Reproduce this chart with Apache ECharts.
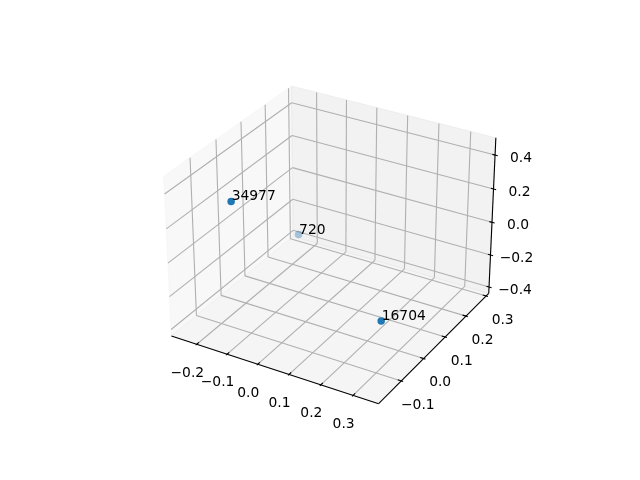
<!DOCTYPE html>
<html>
<head>
<meta charset="utf-8">
<style>html,body{margin:0;padding:0;background:#fff}#c{width:640px;height:480px}</style>
<script src="https://cdn.jsdelivr.net/npm/echarts@6/dist/echarts.min.js"></script>
</head>
<body>
<div id="c"></div>
<script>
// ---- data ----
const pointLabels = ['34977', '720', '16704'];
const pointX = [-0.10, -0.24, 0.324];
const pointY = [-0.165, 0.28, -0.115];
const pointZ = [0.416, -0.365, -0.097];
const xTicks = [-0.2, -0.1, 0.0, 0.1, 0.2, 0.3];
const yTicks = [-0.1, 0.0, 0.1, 0.2, 0.3];
const zTicks = [-0.4, -0.2, 0.0, 0.2, 0.4];
const xRange = [-0.285, 0.378];
const yRange = [-0.198, 0.313];
const zRange = [-0.44, 0.50];

// ---- 3D view (elev 30, azim -60, box aspect 4:4:3, focal length 1) ----
const box = [1.1905, 1.1905, 0.9117];
const U = [0.8660254, 0.5, 0];
const V = [-0.25, 0.421, 0.8660254];
const W = [0.4330127, -0.75, 0.5];
const DIST = 10;
const dot = (a, b) => a[0] * b[0] + a[1] * b[1] + a[2] * b[2];
function centred(x, y, z) {
  return [
    ((x - xRange[0]) / (xRange[1] - xRange[0]) - 0.5) * box[0],
    ((y - yRange[0]) / (yRange[1] - yRange[0]) - 0.5) * box[1],
    ((z - zRange[0]) / (zRange[1] - zRange[0]) - 0.5) * box[2]
  ];
}
function project(x, y, z) {
  const q = centred(x, y, z);
  const d = DIST - dot(W, q);
  return [dot(U, q) / d, dot(V, q) / d];
}
const depth = (x, y, z) => dot(W, centred(x, y, z));

// axis windows for the projected plane, mapping it on the whole canvas
const SCALE = 1995, CX = 333, CY = 237.3;
const planeX = [(0 - CX) / SCALE, (640 - CX) / SCALE];
const planeY = [(CY - 480) / SCALE, CY / SCALE];

const [x0, x1] = xRange, [y0, y1] = yRange, [z0, z1] = zRange;
const seg = (a, b) => [...project(...a), ...project(...b)];
const quad = (a, b, c, d) => [...project(...a), ...project(...b), ...project(...c), ...project(...d)];

const panes = [
  { value: quad([x0, y0, z0], [x0, y1, z0], [x0, y1, z1], [x0, y0, z1]), color: 'rgba(242,242,242,0.5)' },
  { value: quad([x0, y1, z0], [x1, y1, z0], [x1, y1, z1], [x0, y1, z1]), color: 'rgba(230,230,230,0.5)' },
  { value: quad([x0, y0, z0], [x1, y0, z0], [x1, y1, z0], [x0, y1, z0]), color: 'rgba(236,236,236,0.5)' }
];

const gridSegs = [];
xTicks.forEach(t => { gridSegs.push(seg([t, y0, z0], [t, y1, z0]), seg([t, y1, z0], [t, y1, z1])); });
yTicks.forEach(t => { gridSegs.push(seg([x1, t, z0], [x0, t, z0]), seg([x0, t, z0], [x0, t, z1])); });
zTicks.forEach(t => { gridSegs.push(seg([x0, y0, t], [x0, y1, t]), seg([x0, y1, t], [x1, y1, t])); });

const dx = (x1 - x0) / 12, dy = (y1 - y0) / 12;
const axisSegs = [
  seg([x0, y0, z0], [x1, y0, z0]),
  seg([x1, y0, z0], [x1, y1, z0]),
  seg([x1, y1, z0], [x1, y1, z1])
];
xTicks.forEach(t => axisSegs.push(seg([t, y0 - 0.1 * dy, z0], [t, y0 + 0.2 * dy, z0])));
yTicks.forEach(t => axisSegs.push(seg([x1 + 0.1 * dx, t, z0], [x1 - 0.2 * dx, t, z0])));
zTicks.forEach(t => axisSegs.push(seg([x1 + 0.15 * dx, y1, t], [x1 - 0.15 * dx, y1, t])));

const fmt = v => (v < 0 ? '\u2212' : '') + Math.abs(v).toFixed(1);
const tickLabels = [];
xTicks.forEach(t => tickLabels.push({ value: project(t, y0, z0), text: fmt(t), off: [-9.5, 28.7] }));
yTicks.forEach(t => tickLabels.push({ value: project(x1, t, z0), text: fmt(t), off: [16.5, 24] }));
zTicks.forEach(t => tickLabels.push({ value: project(x1, y1, t), text: fmt(t), off: [26, 3] }));

const depths = pointX.map((x, i) => depth(x, pointY[i], pointZ[i]));
const dMin = Math.min(...depths), dMax = Math.max(...depths);
const points = pointX.map((x, i) => {
  const a = 0.38 + 0.62 * (depths[i] - dMin) / (dMax - dMin);
  return {
    value: project(x, pointY[i], pointZ[i]),
    name: pointLabels[i],
    itemStyle: { color: 'rgba(31,119,180,' + a.toFixed(3) + ')', opacity: 1 }
  };
});
const pointTexts = points.map(p => ({ value: p.value, text: p.name }));

const FONT = 'DejaVu Sans', FS = 13.89, LINE = 1.11;
const textFont = FS + 'px "' + FONT + '"';
const chart = echarts.init(document.getElementById('c'), null, { renderer: 'canvas' });
chart.setOption({
  animation: false,
  backgroundColor: '#ffffff',
  grid: { left: 0, top: 0, width: 640, height: 480, containLabel: false },
  xAxis: { type: 'value', min: planeX[0], max: planeX[1], show: false },
  yAxis: { type: 'value', min: planeY[0], max: planeY[1], show: false },
  tooltip: { show: false },
  series: [
    {
      type: 'custom', z: 1, silent: true, clip: false, data: panes,
      renderItem(p, api) {
        const pts = [0, 2, 4, 6].map(k => api.coord([api.value(k), api.value(k + 1)]));
        const c = panes[p.dataIndex].color;
        return { type: 'polygon', shape: { points: pts }, style: { fill: c, stroke: c, lineWidth: 1 } };
      }
    },
    {
      type: 'custom', z: 2, silent: true, clip: false, data: gridSegs,
      renderItem(p, api) {
        const a = api.coord([api.value(0), api.value(1)]), b = api.coord([api.value(2), api.value(3)]);
        return { type: 'line', shape: { x1: a[0], y1: a[1], x2: b[0], y2: b[1] }, style: { stroke: '#b0b0b0', lineWidth: LINE } };
      }
    },
    {
      type: 'custom', z: 3, silent: true, clip: false, data: axisSegs,
      renderItem(p, api) {
        const a = api.coord([api.value(0), api.value(1)]), b = api.coord([api.value(2), api.value(3)]);
        return { type: 'line', shape: { x1: a[0], y1: a[1], x2: b[0], y2: b[1] }, style: { stroke: '#000000', lineWidth: LINE } };
      }
    },
    {
      type: 'custom', z: 4, silent: true, clip: false, data: tickLabels,
      renderItem(p, api) {
        const a = api.coord([api.value(0), api.value(1)]);
        const d = tickLabels[p.dataIndex];
        return { type: 'text', style: { x: a[0] + d.off[0], y: a[1] + d.off[1], text: d.text, fill: '#000', font: textFont, align: 'center', verticalAlign: 'middle' } };
      }
    },
    {
      type: 'scatter', z: 5, silent: true, clip: false, symbol: 'circle', symbolSize: 7.5,
      data: points
    },
    {
      type: 'custom', z: 6, silent: true, clip: false, data: pointTexts,
      renderItem(p, api) {
        const a = api.coord([api.value(0), api.value(1)]);
        return { type: 'text', style: { x: a[0] + 0.5, y: a[1] - 4.5, text: pointTexts[p.dataIndex].text, fill: '#000', font: textFont, align: 'left', verticalAlign: 'middle' } };
      }
    }
  ]
});
</script>
</body>
</html>
